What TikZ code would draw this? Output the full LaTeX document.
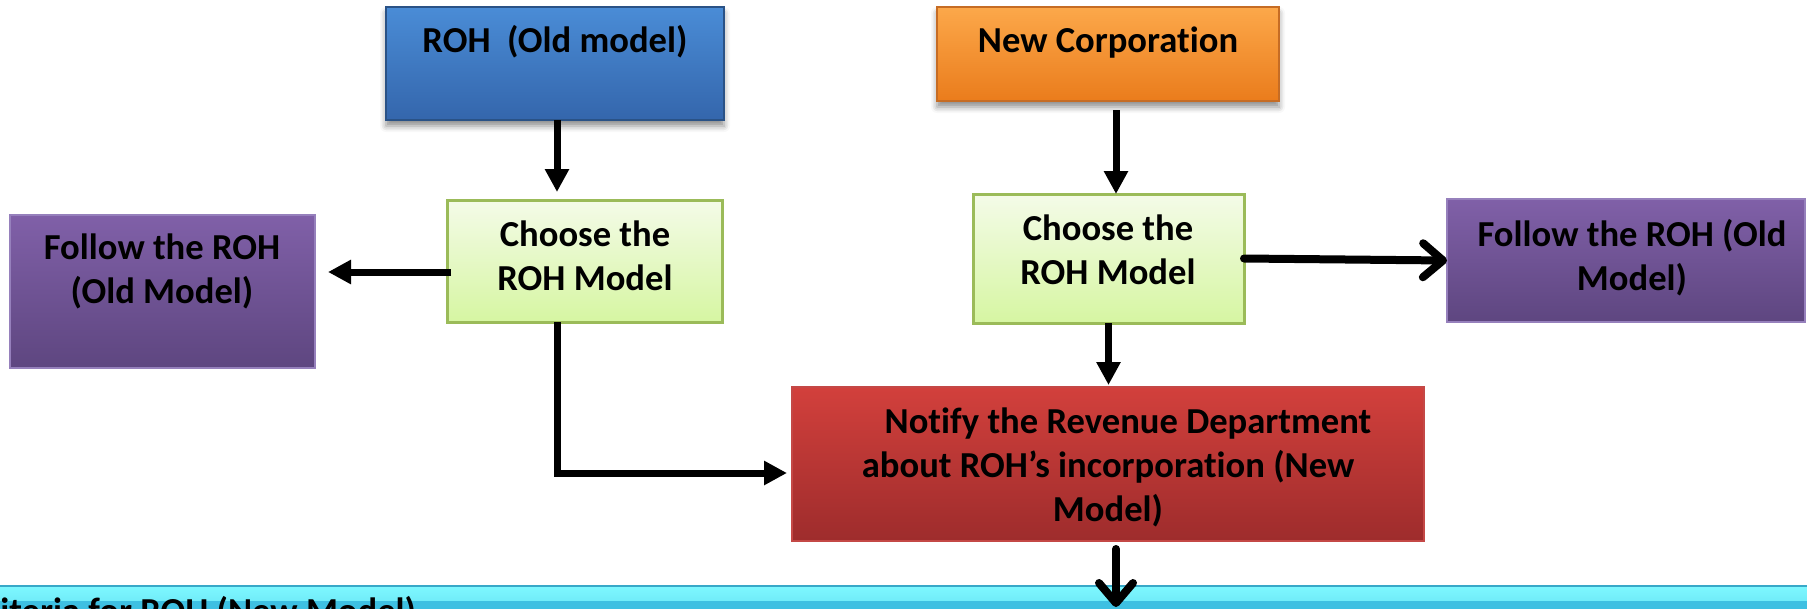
\documentclass[tikz,border=0pt]{standalone}
\usepackage{fontspec}
\setmainfont{Carlito}[Ligatures=NoCommon]
\usetikzlibrary{arrows.meta,shadows.blur}

\definecolor{blueTop}{RGB}{74,140,214}
\definecolor{blueBot}{RGB}{52,102,172}
\definecolor{blueEdge}{RGB}{42,82,134}
\definecolor{orangeTop}{RGB}{252,168,74}
\definecolor{orangeBot}{RGB}{234,124,28}
\definecolor{orangeEdge}{RGB}{198,108,36}
\definecolor{greenTop}{RGB}{244,251,232}
\definecolor{greenBot}{RGB}{214,246,162}
\definecolor{greenEdge}{RGB}{155,187,89}
\definecolor{purpleTop}{RGB}{128,96,168}
\definecolor{purpleBot}{RGB}{94,70,128}
\definecolor{purpleEdge}{RGB}{150,128,188}
\definecolor{redTop}{RGB}{210,64,60}
\definecolor{redBot}{RGB}{158,44,44}
\definecolor{redEdge}{RGB}{196,72,70}
\definecolor{cyanLight}{RGB}{126,248,255}
\definecolor{cyanMain}{RGB}{62,192,226}
\definecolor{cyanEdge}{RGB}{56,168,200}

\begin{document}
\begin{tikzpicture}[x=1pt,y=-1pt,
  % multi-line labels are placed by the baseline of their last line
  txt/.style={inner sep=0pt, outer sep=0pt, anchor=base, align=center,
              font=\fontsize{36.6}{44}\selectfont\bfseries},
  box/.style={rectangle, inner sep=0pt, outer sep=0pt},
  bluebox/.style={box, draw=blueEdge, line width=1.5pt, top color=blueTop, bottom color=blueBot,
                  blur shadow={shadow xshift=0pt, shadow yshift=-6pt, shadow blur radius=6pt, shadow opacity=45}},
  orangebox/.style={box, draw=orangeEdge, line width=1.5pt, top color=orangeTop, bottom color=orangeBot,
                  blur shadow={shadow xshift=0pt, shadow yshift=-6pt, shadow blur radius=6pt, shadow opacity=45}},
  greenbox/.style={box, draw=greenEdge, line width=3pt, top color=greenTop, bottom color=greenBot},
  purplebox/.style={box, draw=purpleEdge, line width=1.5pt, top color=purpleTop, bottom color=purpleBot},
  redbox/.style={box, draw=redEdge, line width=1.5pt, top color=redTop, bottom color=redBot},
  barbox/.style={box, draw=cyanEdge, line width=1.5pt, fill=cyanMain,
                 path picture={\fill[top color=cyanLight, bottom color=cyanMain]
                   (path picture bounding box.north west) rectangle
                   ([yshift=-14pt]path picture bounding box.north east);}},
  arr/.style={line width=7pt, -{Triangle[length=23pt,width=23pt]}},
  openarr/.style={line width=8pt, line cap=round, line join=round,
                  -{Straight Barb[length=20pt,width=34pt,round]}},
]
\useasboundingbox (0,0) rectangle (1807,608);
\clip (0,0) rectangle (1807,608);

% boxes
\node[bluebox,   minimum width=338pt, minimum height=113pt] (blue)   at (555,63.5)   {};
\node[orangebox, minimum width=342pt, minimum height=94pt]  (orange) at (1108,54)    {};
\node[purplebox, minimum width=305pt, minimum height=153pt] (lp)     at (162.5,291.5){};
\node[greenbox,  minimum width=275pt, minimum height=122pt] (g1)     at (584.5,261)  {};
\node[greenbox,  minimum width=271pt, minimum height=129pt] (g2)     at (1108.5,258.5){};
\node[purplebox, minimum width=358pt, minimum height=123pt] (rp)     at (1626,260.5) {};
\node[redbox,    minimum width=632pt, minimum height=154pt] (red)    at (1108,464)   {};
\node[barbox, anchor=north west, minimum width=1840pt, minimum height=70pt] (bar) at (-16,586) {};

% labels
\node[txt] (blueT)   at (555,52)    {ROH\ \ (Old model)};
\node[txt] (orangeT) at (1108,52)   {New Corporation};
\node[txt] (lpT)     at (162,303)   {Follow the ROH\\(Old Model)};
\node[txt] (g1T)     at (585,290)   {Choose the\\ROH Model};
\node[txt] (g2T)     at (1108,284)  {Choose the\\ROH Model};
\node[txt] (rpT)     at (1632,290)  {Follow the ROH (Old\\Model)};
\node[txt] (redT)    at (1108,521)  {\hspace{40pt}Notify the Revenue Department\\about ROH’s incorporation (New\\Model)};
\node[txt, anchor=base west] (barT) at (-32,623) {Criteria for ROH (New Model)};

% connectors
\coordinate (bend) at (557,473);
\coordinate (barTip) at (1116,607);
\draw[arr] ([xshift=2pt]blue.south) -- ([xshift=2pt]blue.south |- g1.north) [shorten >=8pt];
\draw[arr, shorten <=-4pt, shorten >=13pt] ([yshift=-11pt]g1.west) -- ([yshift=-11pt]g1.west -| lp.east);
\draw[arr, shorten >=5pt] (g1.south -| bend) |- (red.west |- bend);
\draw[arr] ([xshift=8pt,yshift=-9pt]orange.south) -- ([xshift=8pt]orange.south |- g2.north);
\draw[openarr] (g2.east) -- (rp.west);
\draw[arr, shorten >=2pt] (g2.south) -- (g2.south |- red.north);
\draw[openarr] (barTip |- red.south) ++(0,8) -- (barTip);
\end{tikzpicture}
\end{document}
